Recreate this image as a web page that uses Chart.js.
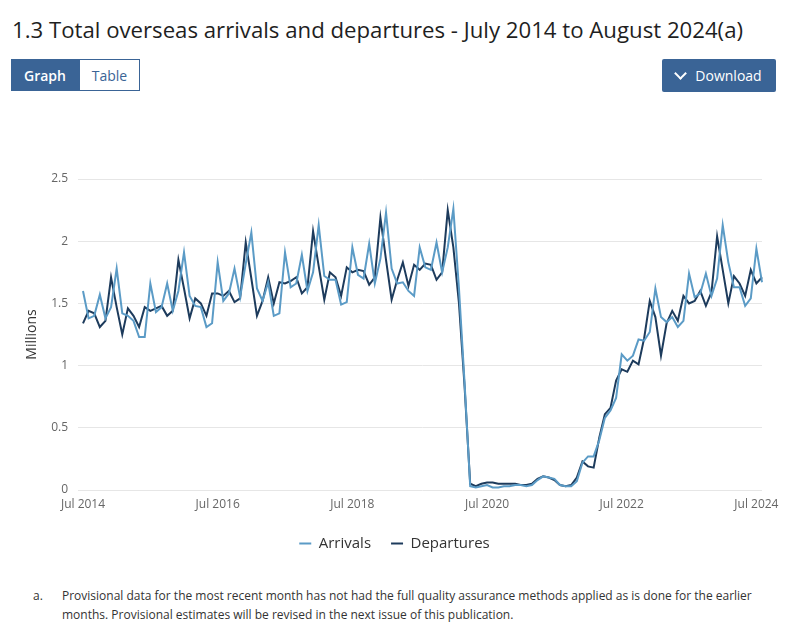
<!DOCTYPE html>
<html>
<head>
<meta charset="utf-8">
<script src="https://cdn.jsdelivr.net/npm/chart.js@4.4.1/dist/chart.umd.min.js"></script>
<style>
  body { margin: 0; background: #fff; font-family: 'Open Sans', Arial, sans-serif; color: #222; }
  .page { position: relative; width: 789px; height: 640px; overflow: hidden; }
  h1 { position: absolute; left: 12px; top: 14px; margin: 0; font-size: 22.2px; font-weight: normal; color: #1f1f1f; white-space: nowrap; }
  .btn { position: absolute; top: 59px; height: 32px; line-height: 31px; font-size: 14px; text-align: center; box-sizing: border-box; }
  .graph { left: 11px; width: 68px; background: #3a6496; color: #fff; border: 1px solid #3a6496; font-weight: 600; }
  .table { left: 79px; width: 61px; background: #fff; color: #3a6496; border: 1px solid #3a6496; }
  .download { left: 662px; width: 114px; background: #3a6496; color: #fff; border-radius: 2px; top: 59px; height: 33px; line-height: 33px; }
  .chev { display: inline-block; width: 7px; height: 7px; border-right: 2.5px solid #fff; border-bottom: 2.5px solid #fff; transform: rotate(45deg); margin-right: 10px; position: relative; top: -3px; }
  #wrap { position: absolute; left: 0; top: 140px; width: 789px; height: 421px; }
  .note { position: absolute; top: 586px; font-size: 12px; color: #333; line-height: 19px; }
</style>
</head>
<body>
<div class="page">
  <h1>1.3 Total overseas arrivals and departures - July 2014 to August 2024(a)</h1>
  <div class="btn graph">Graph</div>
  <div class="btn table">Table</div>
  <div class="btn download"><span class="chev"></span>Download</div>
  <div id="wrap"><canvas id="c"></canvas></div>
  <div class="note" style="left:33px;">a.</div>
  <div class="note" style="left:62px; width:710px;">Provisional data for the most recent month has not had the full quality assurance methods applied as is done for the earlier months. Provisional estimates will be revised in the next issue of this publication.</div>
</div>
<script>
// Monthly totals, millions, Jul 2014 - Aug 2024
const monthNames = ['Jan', 'Feb', 'Mar', 'Apr', 'May', 'Jun', 'Jul', 'Aug', 'Sep', 'Oct', 'Nov', 'Dec'];
const months = [];
for (let y = 2014, m = 6; y < 2024 || (y === 2024 && m <= 7); m++) {
  if (m > 11) { m = 0; y++; }
  months.push(monthNames[m] + ' ' + y);
}

const arrivals = [
  1.60, 1.38, 1.40, 1.57, 1.38, 1.47,
  1.78, 1.42, 1.40, 1.36, 1.23, 1.23, 1.66, 1.43, 1.47, 1.66, 1.44, 1.60,
  1.91, 1.56, 1.48, 1.47, 1.31, 1.34, 1.83, 1.52, 1.58, 1.78, 1.55, 1.82,
  2.07, 1.62, 1.52, 1.67, 1.40, 1.42, 1.91, 1.63, 1.66, 1.89, 1.60, 1.75,
  2.13, 1.72, 1.69, 1.69, 1.49, 1.51, 1.95, 1.73, 1.70, 1.98, 1.66, 1.86,
  2.23, 1.78, 1.66, 1.67, 1.60, 1.56, 1.95, 1.79, 1.77, 1.99, 1.75, 1.95,
  2.26, 1.62, 0.86, 0.03, 0.02, 0.03, 0.04, 0.02, 0.02, 0.03, 0.03, 0.04,
  0.04, 0.03, 0.04, 0.08, 0.11, 0.10, 0.09, 0.04, 0.03, 0.03, 0.07, 0.22,
  0.27, 0.27, 0.40, 0.58, 0.64, 0.74, 1.09, 1.04, 1.08, 1.21, 1.20, 1.27,
  1.62, 1.39, 1.35, 1.39, 1.31, 1.36, 1.74, 1.55, 1.58, 1.74, 1.56, 1.70,
  2.13, 1.83, 1.63, 1.63, 1.48, 1.54, 1.94, 1.67
];

const departures = [
  1.34, 1.44, 1.42, 1.31, 1.36, 1.71,
  1.47, 1.25, 1.46, 1.40, 1.31, 1.47, 1.44, 1.46, 1.48, 1.40, 1.44, 1.85,
  1.62, 1.38, 1.54, 1.50, 1.40, 1.58, 1.58, 1.56, 1.60, 1.51, 1.54, 1.99,
  1.70, 1.40, 1.52, 1.71, 1.50, 1.67, 1.66, 1.68, 1.71, 1.58, 1.63, 2.08,
  1.80, 1.53, 1.75, 1.71, 1.56, 1.79, 1.75, 1.77, 1.76, 1.65, 1.71, 2.19,
  1.85, 1.53, 1.69, 1.83, 1.64, 1.81, 1.77, 1.82, 1.81, 1.69, 1.75, 2.25,
  1.95, 1.50, 0.83, 0.05, 0.03, 0.05, 0.06, 0.06, 0.05, 0.05, 0.05, 0.05,
  0.04, 0.04, 0.05, 0.09, 0.11, 0.10, 0.08, 0.04, 0.03, 0.04, 0.10, 0.23,
  0.19, 0.18, 0.42, 0.61, 0.66, 0.88, 0.97, 0.95, 1.04, 1.01, 1.22, 1.52,
  1.39, 1.08, 1.34, 1.44, 1.36, 1.56, 1.50, 1.52, 1.60, 1.48, 1.59, 2.04,
  1.77, 1.50, 1.72, 1.66, 1.56, 1.77, 1.66, 1.71
];

const yTicks = [0, 0.5, 1, 1.5, 2, 2.5];

Chart.defaults.font.family = "'Open Sans', Arial, sans-serif";
Chart.defaults.color = '#666';

new Chart(document.getElementById('c'), {
  type: 'line',
  data: {
    labels: months,
    datasets: [
      { label: 'Arrivals', data: arrivals, borderColor: '#5b9bc6', backgroundColor: '#5b9bc6', borderWidth: 2, pointRadius: 0, tension: 0 },
      { label: 'Departures', data: departures, borderColor: '#1d3b5c', backgroundColor: '#1d3b5c', borderWidth: 2, pointRadius: 0, tension: 0 }
    ]
  },
  options: {
    responsive: true,
    maintainAspectRatio: false,
    animation: false,
    layout: { padding: { top: 39, right: 0, left: 0, bottom: 0 } },
    plugins: {
      legend: {
        position: 'bottom',
        labels: {
          usePointStyle: true, pointStyle: 'line', pointStyleWidth: 12, boxHeight: 10,
          color: '#333', font: { size: 15 }, padding: 20
        }
      },
      tooltip: { enabled: false }
    },
    scales: {
      x: {
        grid: { display: false, drawTicks: false },
        border: { display: false },
        ticks: {
          autoSkip: false, maxRotation: 0, padding: 7, font: { size: 12 },
          callback: function(v, i) { return i % 24 === 0 ? months[i] : null; }
        },
        afterFit: function(s) { s.height = 26; s.paddingRight = 27; }
      },
      y: {
        min: 0, max: 2.5,
        afterBuildTicks: function(s) { s.ticks = yTicks.map(v => ({ value: v })); },
        grid: { color: '#e6e6e6', tickLength: 5 },
        border: { display: false },
        ticks: { padding: 10, font: { size: 12 }, callback: v => String(v) },
        title: { display: true, text: 'Millions', color: '#333', font: { size: 14 }, padding: { top: 24, bottom: 4 } },
        afterFit: function(s) { s.width = 83; }
      }
    }
  }
});
</script>
</body>
</html>
